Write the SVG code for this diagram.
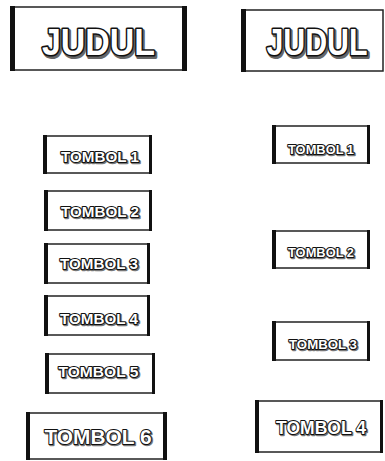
<svg xmlns="http://www.w3.org/2000/svg" width="385" height="461" viewBox="0 0 385 461">
<style>
.box{fill:#fff;stroke:#222;stroke-width:1.5}
.bar{fill:#111}
text{font-family:"Liberation Sans",Arial,sans-serif;font-weight:bold;text-anchor:middle;stroke-linejoin:round;paint-order:stroke fill}
.sh{fill:#777;stroke:#777;stroke-width:2.4}
.tx{fill:#fff;stroke:#111;stroke-width:2}
.shL{fill:#666;stroke:#666;stroke-width:4}
.txL{fill:#fff;stroke:#111;stroke-width:3.2}
</style>
<rect width="385" height="461" fill="#fff"/>
<g id="judul-left">
<rect class="box" x="12" y="7" width="173" height="63"/>
<rect class="bar" x="10" y="6" width="5" height="65"/>
<rect class="bar" x="182" y="6" width="5" height="65"/>
<text class="shL" x="100" y="56.5" font-size="37" textLength="113" lengthAdjust="spacingAndGlyphs">JUDUL</text>
<text class="txL" x="98.5" y="55" font-size="37" textLength="113" lengthAdjust="spacingAndGlyphs">JUDUL</text>
</g>
<g id="judul-right">
<rect class="box" x="243" y="10" width="140" height="61"/>
<rect class="bar" x="241" y="9" width="5" height="63"/>
<g transform="translate(317,55) scale(0.82,1)">
<text class="shL" x="1.8" y="1.5" font-size="37">JUDUL</text>
<text class="txL" x="0" y="0" font-size="37">JUDUL</text>
</g>
</g>
<g id="l-tombol1">
<rect class="box" x="45" y="136" width="106" height="37"/>
<rect class="bar" x="43" y="135" width="4" height="39"/>
<rect class="bar" x="149" y="135" width="3" height="39"/>
<text class="sh" x="101" y="163" font-size="14" textLength="78" lengthAdjust="spacingAndGlyphs">TOMBOL 1</text>
<text class="tx" x="100" y="162" font-size="14" textLength="78" lengthAdjust="spacingAndGlyphs">TOMBOL 1</text>
</g>
<g id="l-tombol2">
<rect class="box" x="46" y="191" width="105" height="39"/>
<rect class="bar" x="44" y="190" width="4" height="41"/>
<rect class="bar" x="149" y="190" width="3" height="41"/>
<text class="sh" x="101" y="218" font-size="14" textLength="78" lengthAdjust="spacingAndGlyphs">TOMBOL 2</text>
<text class="tx" x="100" y="217" font-size="14" textLength="78" lengthAdjust="spacingAndGlyphs">TOMBOL 2</text>
</g>
<g id="l-tombol3">
<rect class="box" x="46" y="244" width="103" height="39"/>
<rect class="bar" x="44" y="243" width="4" height="41"/>
<rect class="bar" x="147" y="243" width="3" height="41"/>
<text class="sh" x="100" y="270" font-size="14" textLength="78" lengthAdjust="spacingAndGlyphs">TOMBOL 3</text>
<text class="tx" x="99" y="269" font-size="14" textLength="78" lengthAdjust="spacingAndGlyphs">TOMBOL 3</text>
</g>
<g id="l-tombol4">
<rect class="box" x="46" y="296" width="103" height="39"/>
<rect class="bar" x="44" y="295" width="4" height="41"/>
<rect class="bar" x="147" y="295" width="3" height="41"/>
<text class="sh" x="100" y="325" font-size="14" textLength="78" lengthAdjust="spacingAndGlyphs">TOMBOL 4</text>
<text class="tx" x="99" y="324" font-size="14" textLength="78" lengthAdjust="spacingAndGlyphs">TOMBOL 4</text>
</g>
<g id="l-tombol5">
<rect class="box" x="47" y="354" width="107" height="39"/>
<rect class="bar" x="45" y="353" width="4" height="41"/>
<rect class="bar" x="152" y="353" width="3" height="41"/>
<text class="sh" x="99.5" y="378" font-size="14" textLength="80" lengthAdjust="spacingAndGlyphs">TOMBOL 5</text>
<text class="tx" x="98.5" y="377" font-size="14" textLength="80" lengthAdjust="spacingAndGlyphs">TOMBOL 5</text>
</g>
<g id="l-tombol6">
<rect class="box" x="28" y="413" width="138" height="46"/>
<rect class="bar" x="26" y="412" width="4" height="48"/>
<rect class="bar" x="163" y="412" width="4" height="48"/>
<text class="sh" x="99" y="445" font-size="21" textLength="107" lengthAdjust="spacingAndGlyphs">TOMBOL 6</text>
<text class="tx" x="98" y="444" font-size="21" textLength="107" lengthAdjust="spacingAndGlyphs">TOMBOL 6</text>
</g>
<g id="r-tombol1">
<rect class="box" x="274" y="126" width="95" height="37"/>
<rect class="bar" x="272" y="125" width="4" height="39"/>
<rect class="bar" x="367" y="125" width="3" height="39"/>
<text class="sh" x="322" y="155" font-size="13" textLength="66" lengthAdjust="spacingAndGlyphs">TOMBOL 1</text>
<text class="tx" x="321" y="154" font-size="13" textLength="66" lengthAdjust="spacingAndGlyphs">TOMBOL 1</text>
</g>
<g id="r-tombol2">
<rect class="box" x="274" y="231" width="95" height="37"/>
<rect class="bar" x="272" y="230" width="4" height="39"/>
<rect class="bar" x="367" y="230" width="3" height="39"/>
<text class="sh" x="322" y="258" font-size="13" textLength="66" lengthAdjust="spacingAndGlyphs">TOMBOL 2</text>
<text class="tx" x="321" y="257" font-size="13" textLength="66" lengthAdjust="spacingAndGlyphs">TOMBOL 2</text>
</g>
<g id="r-tombol3">
<rect class="box" x="274" y="322" width="95" height="38"/>
<rect class="bar" x="272" y="321" width="4" height="40"/>
<rect class="bar" x="367" y="321" width="3" height="40"/>
<text class="sh" x="324" y="350" font-size="13" textLength="68" lengthAdjust="spacingAndGlyphs">TOMBOL 3</text>
<text class="tx" x="323" y="349" font-size="13" textLength="68" lengthAdjust="spacingAndGlyphs">TOMBOL 3</text>
</g>
<g id="r-tombol4">
<rect class="box" x="257" y="401" width="125" height="51"/>
<rect class="bar" x="255" y="400" width="4" height="53"/>
<rect class="bar" x="380" y="400" width="3" height="53"/>
<text class="sh" x="322" y="435" font-size="19" textLength="90" lengthAdjust="spacingAndGlyphs">TOMBOL 4</text>
<text class="tx" x="321" y="434" font-size="19" textLength="90" lengthAdjust="spacingAndGlyphs">TOMBOL 4</text>
</g>
<g id="connectors"/>
</svg>
